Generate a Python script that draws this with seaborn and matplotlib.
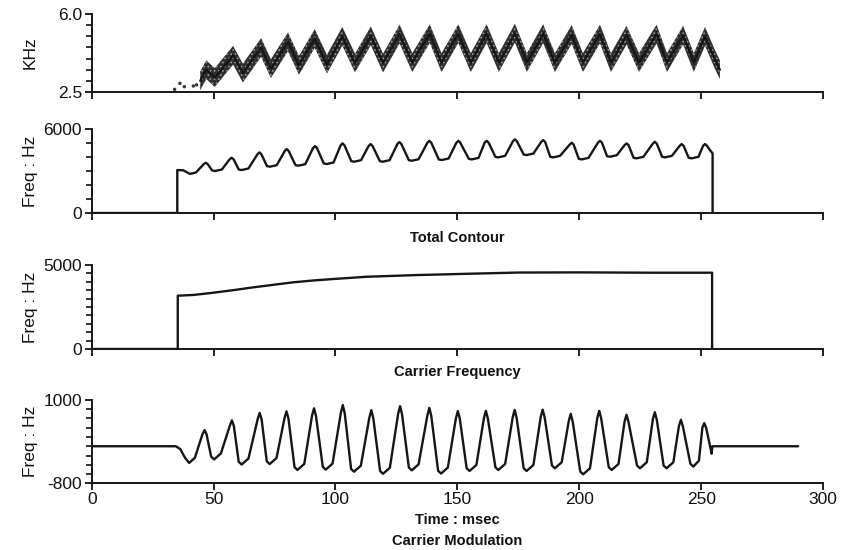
import matplotlib
matplotlib.use("Agg")
import matplotlib.pyplot as plt
from matplotlib.ticker import MultipleLocator
import pandas as pd
import seaborn as sns

# ---------------------------------------------------------------
# Sonogram trace (kHz), centre of the dark band
top_ms = [44.5, 47.0, 50.5, 58.0, 62.0, 69.5, 73.5, 80.5, 85.0, 91.5, 96.5,
          102.8, 108.0, 114.5, 119.5, 126.3, 131.5, 138.7, 143.5, 150.4,
          155.5, 162.0, 167.0, 173.6, 178.5, 185.2, 190.0, 196.9, 201.5,
          208.5, 213.0, 219.4, 224.5, 231.7, 236.0, 242.6, 247.0, 251.6,
          255.5, 257.7]
top_khz = [3.0, 3.5, 3.15, 4.15, 3.35, 4.5, 3.55, 4.75, 3.7, 4.9, 3.75,
           5.0, 3.8, 5.02, 3.8, 5.1, 3.82, 5.12, 3.82, 5.12,
           3.82, 5.12, 3.82, 5.14, 3.82, 5.12, 3.82, 5.08, 3.82,
           5.1, 3.82, 5.05, 3.82, 5.1, 3.82, 5.05, 3.82, 5.0,
           4.0, 3.5]
band_halfwidth_khz = 0.42
# faint onset specks before the first sweep
onset_ms = [34.0, 36.2, 38.0, 41.7, 43.0]
onset_khz = [2.62, 2.89, 2.74, 2.77, 2.82]

# Total contour (Hz)
total_ms = [0, 35.1, 35.1, 37.6, 40.3, 42.8,
            46.0, 46.8, 47.6, 49.4, 50.6, 53.4,
            56.6, 57.4, 58.2, 60.3, 61.5, 64.3,
            68.0, 68.8, 69.6, 71.9, 73.1, 75.9,
            79.2, 80.0, 80.8, 83.6, 84.8, 87.6,
            90.8, 91.6, 92.4, 95.2, 96.4, 99.2,
            102.1, 102.9, 103.7, 106.5, 107.7, 110.5,
            113.6, 114.4, 115.2, 118.2, 119.4, 122.2,
            125.4, 126.2, 127.0, 130.1, 131.3, 134.1,
            137.7, 138.5, 139.3, 142.4, 143.6, 146.4,
            149.6, 150.4, 151.2, 154.7, 155.9, 158.7,
            161.2, 162.0, 162.8, 165.6, 166.8, 169.6,
            172.8, 173.6, 174.4, 177.2, 178.4, 181.2,
            184.4, 185.2, 186.0, 188.1, 189.3, 192.1,
            196.1, 196.9, 197.7, 199.8, 201.0, 203.8,
            207.7, 208.5, 209.3, 211.4, 212.6, 215.4,
            218.6, 219.4, 220.2, 222.3, 223.5, 226.3,
            230.2, 231.0, 231.8, 234.0, 235.2, 238.0,
            241.2, 242.0, 242.8, 244.9, 246.1, 248.9,
            250.8, 251.6, 252.4, 253.6, 254.7, 254.7]
total_hz = [0, 0, 3070, 3050, 2790, 2900,
            3500, 3590, 3490, 3040, 3000, 3110,
            3840, 3950, 3840, 3110, 3070, 3180,
            4200, 4330, 4200, 3350, 3310, 3420,
            4430, 4570, 4430, 3420, 3380, 3490,
            4640, 4785, 4640, 3540, 3500, 3610,
            4830, 4975, 4830, 3705, 3665, 3775,
            4790, 4925, 4790, 3705, 3665, 3775,
            4930, 5070, 4930, 3775, 3735, 3845,
            5020, 5160, 5020, 3825, 3785, 3895,
            5020, 5160, 5020, 3870, 3830, 3940,
            5030, 5160, 5030, 4015, 3975, 4085,
            5130, 5260, 5130, 4180, 4140, 4250,
            5080, 5210, 5080, 4015, 3975, 4085,
            4890, 5020, 4890, 3870, 3830, 3940,
            5030, 5160, 5030, 4060, 4020, 4130,
            4850, 4975, 4850, 3945, 3905, 4015,
            4960, 5090, 4960, 4015, 3975, 4085,
            4800, 4925, 4800, 3945, 3905, 4015,
            4800, 4925, 4800, 4500, 4260, 0]

# Carrier frequency (Hz)
carrier_ms = [0, 35.3, 35.3, 42.0, 49.9, 58.0, 66.3, 74.5, 82.7, 91.0, 99.1,
              112.8, 133.3, 155.0, 175.0, 200.0, 230.0, 254.5, 254.5]
carrier_hz = [0, 0, 3170, 3220, 3350, 3500, 3670, 3820, 3970, 4080, 4165,
              4300, 4400, 4480, 4550, 4560, 4540, 4540, 0]

# Carrier modulation (Hz)
mod_ms = [0, 34.5, 36.3, 38.3, 40.0, 42.3,
          45.5, 46.3, 47.1, 49.0, 50.2, 53.0,
          56.7, 57.5, 58.3, 60.3, 61.5, 64.3,
          68.1, 68.9, 69.7, 71.8, 73.0, 75.8,
          79.1, 79.9, 80.7, 83.2, 84.4, 87.2,
          90.4, 91.2, 92.0, 94.8, 96.0, 98.8,
          102.2, 103.0, 103.8, 106.4, 107.6, 110.4,
          113.9, 114.7, 115.5, 118.3, 119.5, 122.3,
          125.7, 126.5, 127.3, 130.1, 131.3, 134.1,
          137.7, 138.5, 139.3, 142.1, 143.3, 146.1,
          149.4, 150.2, 151.0, 153.8, 155.0, 157.8,
          160.9, 161.7, 162.5, 165.6, 166.8, 169.6,
          172.7, 173.5, 174.3, 177.2, 178.4, 181.2,
          184.2, 185.0, 185.8, 188.8, 190.0, 192.8,
          195.7, 196.5, 197.3, 200.4, 201.6, 204.4,
          207.4, 208.2, 209.0, 212.1, 213.3, 216.1,
          218.6, 219.4, 220.2, 223.7, 224.9, 227.7,
          230.2, 231.0, 231.8, 234.6, 235.8, 238.6,
          240.9, 241.7, 242.5, 245.6, 246.8, 249.1,
          250.5, 251.3, 252.1, 254.3, 254.6, 289.8]
mod_hz = [0, 0, -60, -250, -360, -250,
          270, 350, 260, -225, -285, -155,
          450, 560, 440, -335, -395, -265,
          590, 720, 580, -325, -385, -255,
          610, 755, 600, -452, -512, -382,
          665, 820, 655, -445, -505, -375,
          720, 890, 710, -490, -550, -420,
          620, 780, 610, -535, -595, -465,
          700, 865, 690, -460, -520, -390,
          665, 830, 655, -530, -590, -460,
          605, 760, 595, -474, -534, -404,
          610, 765, 600, -453, -513, -383,
          625, 784, 615, -474, -534, -404,
          635, 790, 625, -416, -476, -346,
          545, 700, 535, -546, -606, -476,
          610, 765, 600, -453, -513, -383,
          535, 680, 525, -416, -476, -346,
          585, 735, 575, -416, -476, -346,
          440, 570, 430, -380, -440, -310,
          400, 500, 390, -160, 0, 0]

x_ticks = [0, 50, 100, 150, 200, 250, 300]

# ---------------------------------------------------------------
sns.set_theme(style="ticks")
plt.rcParams["font.family"] = ["Liberation Sans", "DejaVu Sans"]
plt.rcParams["text.color"] = "#111111"
plt.rcParams["axes.labelcolor"] = "#111111"
plt.rcParams["xtick.color"] = "#111111"
plt.rcParams["ytick.color"] = "#111111"
plt.rcParams["hatch.linewidth"] = 0.7

INK = "#161616"
fig = plt.figure(figsize=(8.43, 5.5), dpi=100)
fig.patch.set_facecolor("white")

LEFT, WIDTH = 0.1088, 0.8675
ax_top = fig.add_axes([LEFT, 0.8327, WIDTH, 0.1418])
ax_tot = fig.add_axes([LEFT, 0.6127, WIDTH, 0.1527])
ax_car = fig.add_axes([LEFT, 0.3655, WIDTH, 0.1527])
ax_mod = fig.add_axes([LEFT, 0.1213, WIDTH, 0.1515])


def style_axis(ax, ylo, yhi, ylabels, minor_step, ylabel, show_x):
    ax.set_facecolor("white")
    ax.set_xlim(0, 300)
    ax.set_ylim(ylo, yhi)
    for side in ("top", "right"):
        ax.spines[side].set_visible(False)
    for side in ("left", "bottom"):
        ax.spines[side].set_linewidth(1.4)
        ax.spines[side].set_color(INK)
    ax.set_yticks([ylo, yhi], labels=ylabels)
    ax.yaxis.set_minor_locator(MultipleLocator(minor_step))
    ax.set_xticks(x_ticks, labels=[str(v) for v in x_ticks] if show_x else [])
    ax.tick_params(axis="y", which="major", length=5, width=1.3,
                   direction="out", pad=2, labelsize=12.5)
    ax.tick_params(axis="y", which="minor", length=4.5, width=1.2,
                   direction="out")
    ax.tick_params(axis="x", which="major", length=5, width=1.3,
                   direction="out", pad=1, labelsize=12.5)
    ax.set_xlabel("")
    ax.set_ylabel(ylabel, fontsize=12.5)
    ax.yaxis.set_label_coords(-0.074, 0.5)


# Sonogram panel: a grainy dark band around the traced contour
ax_top.fill_between(top_ms,
                    [v - band_halfwidth_khz for v in top_khz],
                    [v + band_halfwidth_khz for v in top_khz],
                    facecolor="#2e2e2e", edgecolor="#9a9a9a",
                    hatch="....", linewidth=0)
sns.lineplot(x=top_ms, y=top_khz, ax=ax_top, color="#151515", lw=1.6,
             sort=False, estimator=None)
sns.scatterplot(x=onset_ms, y=onset_khz, ax=ax_top, color="#333333", s=6,
                edgecolor="none")
style_axis(ax_top, 2.5, 6.0, ["2.5", "6.0"], 0.5, "KHz", False)

LW = 1.7
# Total contour
sns.lineplot(data=pd.DataFrame({"t": total_ms, "f": total_hz}), x="t", y="f",
             ax=ax_tot, color=INK, lw=LW, sort=False, estimator=None)
style_axis(ax_tot, 0, 6000, ["0", "6000"], 1000, "Freq : Hz", False)

# Carrier
sns.lineplot(data=pd.DataFrame({"t": carrier_ms, "f": carrier_hz}), x="t",
             y="f", ax=ax_car, color=INK, lw=LW, sort=False, estimator=None)
style_axis(ax_car, 0, 5000, ["0", "5000"], 500, "Freq : Hz", False)

# Modulation
sns.lineplot(data=pd.DataFrame({"t": mod_ms, "f": mod_hz}), x="t", y="f",
             ax=ax_mod, color=INK, lw=LW, sort=False, estimator=None)
style_axis(ax_mod, -800, 1000, ["-800", "1000"], 200, "Freq : Hz", True)

cx = 457.5 / 843
title_kw = dict(ha="center", va="center", fontsize=10.5, fontweight="bold")
fig.text(cx, 1 - 238 / 550, "Total Contour", **title_kw)
fig.text(cx, 1 - 372 / 550, "Carrier Frequency", **title_kw)
fig.text(cx, 1 - 520 / 550, "Time : msec", **title_kw)
fig.text(cx, 1 - 541 / 550, "Carrier Modulation", **title_kw)

fig.savefig("out.png", dpi=100, facecolor="white")
